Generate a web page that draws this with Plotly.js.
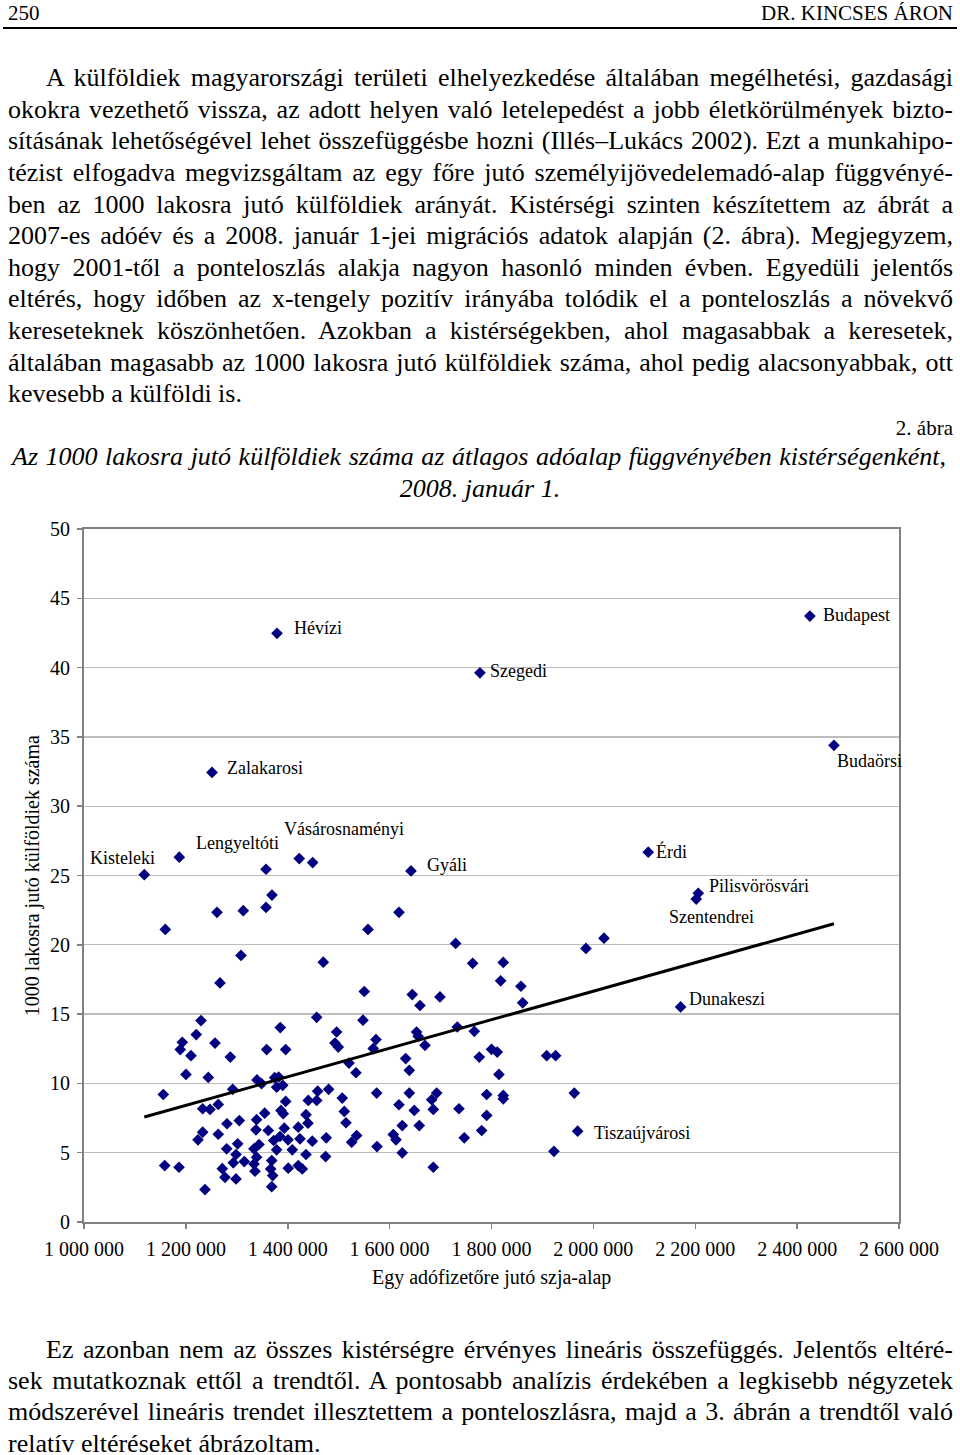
<!DOCTYPE html>
<html lang="hu">
<head>
<meta charset="utf-8">
<script src="https://cdn.plot.ly/plotly-3.0.1.min.js"></script>
<style>
  html, body { margin:0; padding:0; background:#fff; }
  body { width:960px; height:1455px; overflow:hidden; position:relative;
         font-family:'Liberation Serif','Times New Roman',serif; color:#000; }
  .ln { position:absolute; white-space:nowrap; font-size:26px; line-height:31.6px; display:inline-block; }
  #chart { position:absolute; left:0; top:500px; width:960px; height:800px; }
</style>
</head>
<body>
<div class="ln" style="left:8px; top:2px; font-size:21px; line-height:22px;">250</div>
<div class="ln" style="right:7px; top:2px; font-size:21px; line-height:22px;">DR. KINCSES ÁRON</div>
<div style="position:absolute; left:3px; top:27px; width:954px; height:2px; background:#000;"></div>
<div class="ln" style="right:7px; top:417px; font-size:21px; line-height:22px;">2. ábra</div>
<div class="ln j" data-w="934" style="left:12px; top:443px; font-size:26px; line-height:28px; font-style:italic;">Az 1000 lakosra jutó külföldiek száma az átlagos adóalap függvényében kistérségenként,</div>
<div style="position:absolute; left:0; width:960px; top:475px; font-size:26px; line-height:28px; font-style:italic; text-align:center;">2008. január 1.</div>
<div id="chart"></div>
<script>
// ---------------- text ----------------
const para1 = [
  "A külföldiek magyarországi területi elhelyezkedése általában megélhetési, gazdasági",
  "okokra vezethető vissza, az adott helyen való letelepedést a jobb életkörülmények bizto-",
  "sításának lehetőségével lehet összefüggésbe hozni (Illés–Lukács 2002). Ezt a munkahipo-",
  "tézist elfogadva megvizsgáltam az egy főre jutó személyijövedelemadó-alap függvényé-",
  "ben az 1000 lakosra jutó külföldiek arányát. Kistérségi szinten készítettem az ábrát a",
  "2007-es adóév és a 2008. január 1-jei migrációs adatok alapján (2. ábra). Megjegyzem,",
  "hogy 2001-től a ponteloszlás alakja nagyon hasonló minden évben. Egyedüli jelentős",
  "eltérés, hogy időben az x-tengely pozitív irányába tolódik el a ponteloszlás a növekvő",
  "kereseteknek köszönhetően. Azokban a kistérségekben, ahol magasabbak a keresetek,",
  "általában magasabb az 1000 lakosra jutó külföldiek száma, ahol pedig alacsonyabbak, ott",
  "kevesebb a külföldi is."
];
const para2 = [
  "Ez azonban nem az összes kistérségre érvényes lineáris összefüggés. Jelentős eltéré-",
  "sek mutatkoznak ettől a trendtől. A pontosabb analízis érdekében a legkisebb négyzetek",
  "módszerével lineáris trendet illesztettem a ponteloszlásra, majd a 3. ábrán a trendtől való",
  "relatív eltéréseket ábrázoltam."
];
function placePara(lines, firstCenter, step) {
  const frag = document.createDocumentFragment();
  lines.forEach((t, i) => {
    const d = document.createElement('div');
    d.className = 'ln';
    d.textContent = t;
    const left = i === 0 ? 46 : 8;
    d.style.left = left + 'px';
    d.style.top = (firstCenter + i * step - 15.8) + 'px';
    if (i < lines.length - 1) { d.classList.add('j'); d.dataset.w = String(953 - left); }
    frag.appendChild(d);
  });
  document.body.appendChild(frag);
}
placePara(para1, 78, 31.6);
placePara(para2, 1350, 31.1);
document.querySelectorAll('.j').forEach(el => {
  const target = parseFloat(el.dataset.w);
  const natural = el.getBoundingClientRect().width;
  const spaces = (el.textContent.match(/ /g) || []).length;
  if (spaces > 0) el.style.wordSpacing = ((target - natural) / spaces) + 'px';
});

// ---------------- data ----------------
// Named districts (labelled points)
const namedDistricts = ["Kisteleki","Zalakarosi","Hévízi","Lengyeltóti","Vásárosnaményi","Gyáli","Szegedi",
  "Érdi","Szentendrei","Pilisvörösvári","Dunakeszi","Tiszaújvárosi","Budapest","Budaörsi"];
const namedX = [1118400,1251300,1378900,1357300,1422600,1641900,1777300,
  2107700,2201900,2205900,2171300,1969100,2425100,2472300];
const namedY = [25.06,32.44,42.47,25.45,26.22,25.33,39.62,
  26.68,23.30,23.72,15.52,6.55,43.72,34.39];

// Other districts (unlabelled points)
const otherX = [
  1187100,1448900,1369000,1357300,1261100,1312700,1159600,1618300,1557500,1729600,2020800,1985400,
  1308200,1267000,1229700,1220400,1193000,1189000,1257200,1210000,1287200,1200200,1244000,1339600,
  1155700,1291900,1233000,1247300,1263600,1280700,1304900,1338800,1233000,1223800,1263600,1337600,
  1280100,1301700,1298400,1314700,1293100,1333700,1333700,1158400,1186500,1271500,1276800,1298400,1237500,
  1469800,1550200,1456800,1547700,1385300,1496000,1492700,1499200,1573200,1567900,1358600,1395900,
  1348600,1374300,1382200,1378200,1390100,1520200,1533900,1480300,1458700,1440300,1456800,1507000,
  1574600,1395900,1386700,1391200,1354700,1435800,1439700,1420700,1511000,1514300,1393200,1361800,
  1384700,1372400,1400500,1424000,1448200,1475600,1525500,1535300,1575200,1343500,1378200,1408900,
  1435800,1474300,1338800,1368500,1335700,1366500,1370400,1401000,1420700,1428500,1368500,
  1763000,1823100,1817900,1644500,1659600,1698800,1652900,1656000,1669400,1732800,1766200,1631500,
  1638600,1776000,1800100,1811300,1814600,1638600,1692400,1682500,1685700,1618300,1648400,1736100,
  1790500,1790500,1624800,1658200,1607200,1612500,1624800,1746500,1780700,1685700,1823100,1823100,
  1857800,1861200,1908300,1925900,1962500,1922600
];
const otherY = [
  26.32,25.93,23.59,22.70,22.34,22.46,21.11,22.34,21.11,20.10,20.48,19.74,
  19.23,17.25,14.53,13.52,12.96,12.44,12.91,12.00,11.90,10.65,10.43,10.25,
  9.20,9.57,8.17,8.12,8.48,7.09,7.32,7.38,6.48,5.93,6.33,6.65,
  5.28,5.64,4.87,4.36,4.27,5.28,4.19,4.07,3.95,3.85,3.22,3.11,2.34,
  18.75,16.63,14.77,14.56,14.03,13.71,12.91,12.62,13.16,12.51,12.44,12.44,
  9.98,10.41,10.46,9.73,9.86,11.47,10.77,9.57,9.44,8.77,8.77,8.94,
  9.30,8.70,8.05,7.81,7.85,7.74,7.13,6.84,7.98,7.16,6.77,6.60,
  6.17,5.88,5.93,6.00,5.83,6.07,5.76,6.24,5.44,5.59,5.21,5.21,
  4.87,4.72,4.67,4.43,3.66,3.83,3.35,3.88,4.07,3.83,2.55,
  18.66,18.73,17.40,16.41,15.62,16.24,13.71,13.40,12.75,14.07,13.76,11.79,
  10.94,11.90,12.46,12.26,10.65,9.30,9.30,8.82,8.12,8.46,8.05,8.17,
  9.20,7.69,6.96,6.96,6.31,5.93,4.99,6.07,6.60,3.95,9.13,8.89,
  17.01,15.81,12.00,12.00,9.30,5.10
];

const xTickVals = [1000000,1200000,1400000,1600000,1800000,2000000,2200000,2400000,2600000];
const xTitle = "Egy adófizetőre jutó szja-alap";
const yTitle = "1000 lakosra jutó külföldiek száma";

// label placement (style): [xanchor, xshift, yshift]
const labelPlacement = {
  "Kisteleki":["right",13,17], "Zalakarosi":["left",13,4], "Hévízi":["left",15,5],
  "Lengyeltóti":["left",-72,26], "Vásárosnaményi":["left",-17,30], "Gyáli":["left",14,6],
  "Szegedi":["left",8,2], "Érdi":["left",6,1], "Szentendrei":["left",-29,-18],
  "Pilisvörösvári":["left",9,7], "Dunakeszi":["left",6,8], "Tiszaújvárosi":["left",14,-2],
  "Budapest":["left",11,1], "Budaörsi":["left",1,-16]
};

// ---------------- least squares trend ----------------
const allX = namedX.concat(otherX);
const allY = namedY.concat(otherY);
const n = allX.length;
const mx = allX.reduce((a,b)=>a+b,0)/n;
const my = allY.reduce((a,b)=>a+b,0)/n;
let sxy = 0, sxx = 0;
for (let i=0;i<n;i++){ sxy += (allX[i]-mx)*(allY[i]-my); sxx += (allX[i]-mx)*(allX[i]-mx); }
const slope = sxy/sxx, icpt = my - slope*mx;
const xmin = Math.min(...allX), xmax = Math.max(...allX);

const serif = 'Liberation Serif, Times New Roman, serif';
const marker = {symbol:'diamond', size:9, color:'#000080', line:{width:0}};
const traces = [
  {x: otherX, y: otherY, mode:'markers', type:'scatter', marker: marker, hoverinfo:'skip'},
  {x: namedX, y: namedY, mode:'markers', type:'scatter', marker: marker, hoverinfo:'skip'},
  {x: [xmin, xmax], y: [icpt + slope*xmin, icpt + slope*xmax], mode:'lines', type:'scatter',
   line:{color:'#000', width:3}, hoverinfo:'skip'}
];

const annotations = namedDistricts.map((name, i) => {
  const p = labelPlacement[name];
  return {x: namedX[i], y: namedY[i], xref:'x', yref:'y', text: name, showarrow:false,
          xanchor: p[0], yanchor:'middle', xshift: p[1], yshift: p[2],
          font:{family: serif, size:18, color:'#000'}};
});
annotations.push({text: yTitle, xref:'paper', yref:'paper', x:-0.063, y:0.5, showarrow:false,
  textangle:-90, xanchor:'center', yanchor:'middle', font:{family: serif, size:20, color:'#000'}});
annotations.push({text: xTitle, xref:'paper', yref:'paper', x:0.5, y:-0.0794, showarrow:false,
  xanchor:'center', yanchor:'middle', font:{family: serif, size:20, color:'#000'}});

const layout = {
  width:960, height:800,
  margin:{l:84, r:61, t:29, b:78},
  paper_bgcolor:'rgba(0,0,0,0)', plot_bgcolor:'#fff',
  showlegend:false,
  separators:', ',
  font:{family: serif, size:20, color:'#000'},
  xaxis:{range:[1000000,2600000], tickvals:xTickVals, tickformat:',d',
         showgrid:false, zeroline:false, showline:true, linecolor:'#808080', linewidth:2, mirror:true,
         ticks:'outside', ticklen:5, tickcolor:'#808080', tickwidth:1.5, ticklabelstandoff:3,
         tickfont:{family: serif, size:20, color:'#000'}},
  yaxis:{range:[0,50], dtick:5, tick0:0,
         showgrid:true, gridcolor:'#bdbdbd', gridwidth:1.3, zeroline:false,
         showline:true, linecolor:'#808080', linewidth:2, mirror:true,
         ticks:'outside', ticklen:5, tickcolor:'#808080', tickwidth:1.5, ticklabelstandoff:3,
         tickfont:{family: serif, size:20, color:'#000'}},
  annotations: annotations
};
Plotly.newPlot('chart', traces, layout, {displayModeBar:false, staticPlot:true});
</script>
</body>
</html>
